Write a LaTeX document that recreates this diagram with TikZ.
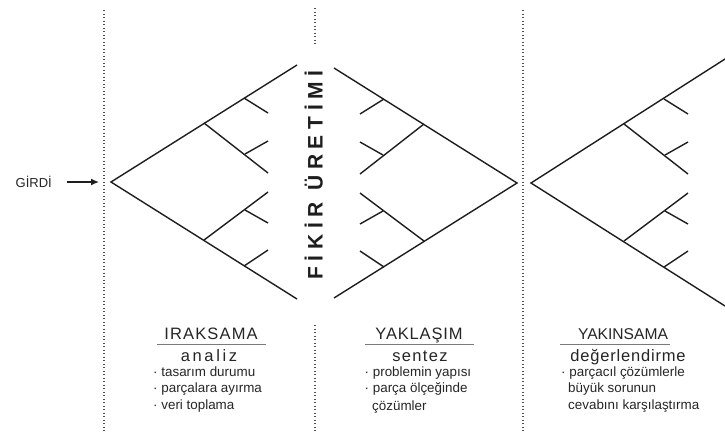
\documentclass[tikz,border=0pt]{standalone}
\usepackage{fontspec}
\setmainfont{Liberation Sans}
\usetikzlibrary{arrows.meta}
\definecolor{ink}{HTML}{1E1E1E}
\definecolor{txt}{HTML}{262626}
\definecolor{dotc}{HTML}{505050}
\definecolor{rulec}{HTML}{7A7A7A}
\newcommand\chevbranches{%
  \draw[arm] (93,-59) -- (157,-9);
  \draw[arm] (133,-84) -- (157,-69);
  \draw[arm] (134,-28) -- (157,-41);
  \draw[arm] (93,58) -- (157,10);
  \draw[arm] (133,84) -- (157,68);
  \draw[arm] (134,28) -- (157,41);
}
\begin{document}
\begin{tikzpicture}[x=1pt,y=-1pt,
  arm/.style={draw=ink,line width=1.4pt},
  dotline/.style={draw=dotc,line width=1.2pt,dash pattern=on 1.2pt off 2.3pt},
  title/.style={text=txt,inner sep=0pt,anchor=base},
  subtitle/.style={text=txt,inner sep=0pt,anchor=base},
  item/.style={text=txt,font=\fontsize{13.4}{15}\selectfont,inner sep=0pt,anchor=base west},
  rulel/.style={draw=rulec,line width=0.9pt}]
\useasboundingbox (0,0) rectangle (725,437);
\fill[white] (0,0) rectangle (725,437);

% dotted separators
\coordinate (d1t) at (104,10); \coordinate (d1b) at (104,432);
\coordinate (d2t) at (315,8);  \coordinate (d2m) at (315,45);
\coordinate (d2n) at (315,325); \coordinate (d2b) at (315,432);
\coordinate (d3t) at (523,10); \coordinate (d3b) at (523,432);
\draw[dotline] (d1t) -- (d1b);
\draw[dotline] (d2t) -- (d2m);
\draw[dotline] (d2n) -- (d2b);
\draw[dotline] (d3t) -- (d3b);

% left chevron (divergence)
\begin{scope}[shift={(111,182)}]
  \coordinate (la) at (0,0);
  \coordinate (lu) at (186,-117);
  \coordinate (ll) at (186,117);
  \draw[arm] (lu) -- (la) -- (ll);
  \chevbranches
\end{scope}

% middle chevron (mirrored)
\begin{scope}[shift={(517,183)},xscale=-1]
  \coordinate (ma) at (0,0);
  \coordinate (mu) at (183,-115);
  \coordinate (ml) at (183,115);
  \draw[arm] (mu) -- (ma) -- (ml);
  \chevbranches
\end{scope}

% right chevron
\begin{scope}[shift={(531,183)}]
  \coordinate (ra) at (0,0);
  \coordinate (ru) at (194,-124);
  \coordinate (rl) at (194,123);
  \draw[arm] (ru) -- (ra) -- (rl);
  \chevbranches
\end{scope}

% input
\node[text=txt,font=\fontsize{13}{15}\selectfont,inner sep=0pt,anchor=base east] (girdi) at (52,187) {GİRDİ};
\coordinate (arrs) at (67,182);
\coordinate (arre) at (99,182);
\draw[draw=ink,line width=1.4pt,-{Latex[length=8pt,width=7pt]}] (arrs) -- (arre);

% vertical label
\node[text=ink,font=\fontsize{21}{23}\selectfont\bfseries\addfontfeatures{LetterSpace=27},
      inner sep=0pt,rotate=90,anchor=base] (fikir) at (322.5,175) {FİKİR ÜRETİMİ};

% bottom texts
\node[title,font=\fontsize{16.5}{18}\selectfont\addfontfeatures{LetterSpace=7}] (t1) at (211,339) {IRAKSAMA};
\coordinate (u1a) at (157,344); \coordinate (u1b) at (266,344);
\draw[rulel] (u1a) -- (u1b);
\node[subtitle,font=\fontsize{16.5}{18}\selectfont\addfontfeatures{LetterSpace=16}] (s1) at (209,361) {analiz};
\node[item] (i11) at (153,376) {· tasarım durumu};
\node[item] (i12) at (153,392.5) {· parçalara ayırma};
\node[item] (i13) at (153,409) {· veri toplama};

\node[title,font=\fontsize{16.5}{18}\selectfont\addfontfeatures{LetterSpace=5}] (t2) at (419,339) {YAKLAŞIM};
\coordinate (u2a) at (365,344); \coordinate (u2b) at (474,344);
\draw[rulel] (u2a) -- (u2b);
\node[subtitle,font=\fontsize{16.5}{18}\selectfont\addfontfeatures{LetterSpace=8}] (s2) at (420,361) {sentez};
\node[item] (i21) at (364.5,376) {· problemin yapısı};
\node[item] (i22) at (364.5,392.5) {· parça ölçeğinde};
\node[item] (i23) at (372,410) {çözümler};

\node[title,font=\fontsize{15.6}{17}\selectfont] (t3) at (623,339) {YAKINSAMA};
\coordinate (u3a) at (560,344); \coordinate (u3b) at (670,344);
\draw[rulel] (u3a) -- (u3b);
\node[subtitle,font=\fontsize{16.5}{18}\selectfont\addfontfeatures{LetterSpace=5}] (s3) at (628,361) {değerlendirme};
\node[item] (i31) at (561,376) {· parçacıl çözümlerle};
\node[item] (i32) at (568,392.5) {büyük sorunun};
\node[item] (i33) at (568,409) {cevabını karşılaştırma};
\end{tikzpicture}
\end{document}
